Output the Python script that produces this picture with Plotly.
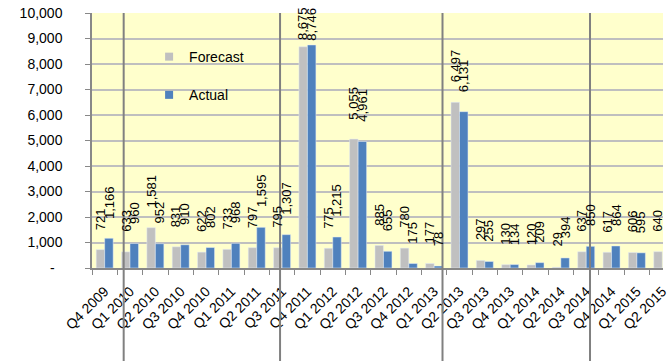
import plotly.graph_objects as go

quarters = ["Q4 2009", "Q1 2010", "Q2 2010", "Q3 2010", "Q4 2010", "Q1 2011", "Q2 2011",
            "Q3 2011", "Q4 2011", "Q1 2012", "Q2 2012", "Q3 2012", "Q4 2012", "Q1 2013",
            "Q2 2013", "Q3 2013", "Q4 2013", "Q1 2014", "Q2 2014", "Q3 2014", "Q4 2014",
            "Q1 2015", "Q2 2015"]
forecast = [721, 633, 1581, 831, 622, 733, 797, 795, 8675, 775, 5055, 885, 780, 177,
            6497, 297, 130, 120, 29, 637, 617, 606, 640]
actual = [1166, 960, 952, 910, 802, 968, 1595, 1307, 8746, 1215, 4961, 655, 175, 78,
          6131, 255, 134, 209, 394, 850, 864, 595, None]
y_tickvals = [0, 1000, 2000, 3000, 4000, 5000, 6000, 7000, 8000, 9000, 10000]
y_ticktext = ["-\u00a0\u00a0", "1,000", "2,000", "3,000", "4,000", "5,000", "6,000",
              "7,000", "8,000", "9,000", "10,000"]
divider_x = [0.75, 6.92, 13.33, 19.15]

GRAY = "#C0C0C0"
BLUE = "#4F81BD"
FONT = "Liberation Sans, Arial, sans-serif"
LABEL_SIZE = 13
LABEL_CAP = 8150
LABEL_GAP = 20


def text_len_px(s, size):
    # approximate Arial advance widths
    return sum((0.278 if ch == "," else 0.556) for ch in s) * size


fig = go.Figure()
fig.add_trace(go.Bar(x=quarters, y=forecast, name="Forecast", marker_color=GRAY,
                     showlegend=False))
fig.add_trace(go.Bar(x=quarters, y=actual, name="Actual", marker_color=BLUE,
                     showlegend=False))
fig.add_trace(go.Scatter(x=[None], y=[None], mode="markers", name="Forecast",
                         marker=dict(symbol="square", size=8, color=GRAY),
                         legendgroup="f"))
fig.add_trace(go.Scatter(x=[None], y=[None], mode="markers", name="Actual",
                         marker=dict(symbol="square", size=8, color=BLUE),
                         legendgroup="a"))

annotations = []
for series, shift in ((forecast, -4.3), (actual, 4.3)):
    for q, v in zip(quarters, series):
        if v is None:
            continue
        label = f"{v:,}"
        annotations.append(dict(
            x=q, y=min(v, LABEL_CAP), xref="x", yref="y", text=label,
            showarrow=True, arrowcolor="rgba(0,0,0,0)", arrowwidth=0.1,
            arrowhead=0, standoff=0, startstandoff=0,
            ax=shift, ay=-(LABEL_GAP + text_len_px(label, LABEL_SIZE) / 2),
            textangle=-90, borderpad=0,
            font=dict(family=FONT, size=LABEL_SIZE, color="black")))

shapes = [dict(type="line", xref="x", yref="paper", x0=xv, x1=xv, y0=1, y1=-0.37,
               line=dict(color="#808080", width=2), layer="above")
          for xv in divider_x]

fig.update_layout(
    width=669, height=361,
    margin=dict(l=92, r=0, t=13, b=93),
    paper_bgcolor="white", plot_bgcolor="#FFFFCC",
    barmode="group", bargap=0.33, bargroupgap=0,
    font=dict(family=FONT, size=14, color="black"),
    showlegend=True,
    legend=dict(x=0.1, y=0.89, xanchor="left", yanchor="top",
                bgcolor="rgba(0,0,0,0)", font=dict(size=14),
                traceorder="grouped", tracegroupgap=17),
    annotations=annotations,
    shapes=shapes,
    xaxis=dict(type="category", range=[-0.5, 22.03], tickangle=-45,
               showgrid=False, showline=True, linecolor="#888888", linewidth=1.5,
               ticks="outside", tickson="boundaries", ticklen=5, tickcolor="#888888",
               tickfont=dict(size=14), ticklabelstandoff=8, fixedrange=True),
    yaxis=dict(range=[0, 10000], tickvals=y_tickvals, ticktext=y_ticktext,
               showgrid=True, gridcolor="#BFBFBF", gridwidth=1.5,
               showline=True, linecolor="#888888", linewidth=1.5,
               ticks="outside", ticklen=5, tickcolor="#888888",
               tickfont=dict(size=14), ticklabelstandoff=20, zeroline=False,
               fixedrange=True),
)

fig.write_html("out.html")
